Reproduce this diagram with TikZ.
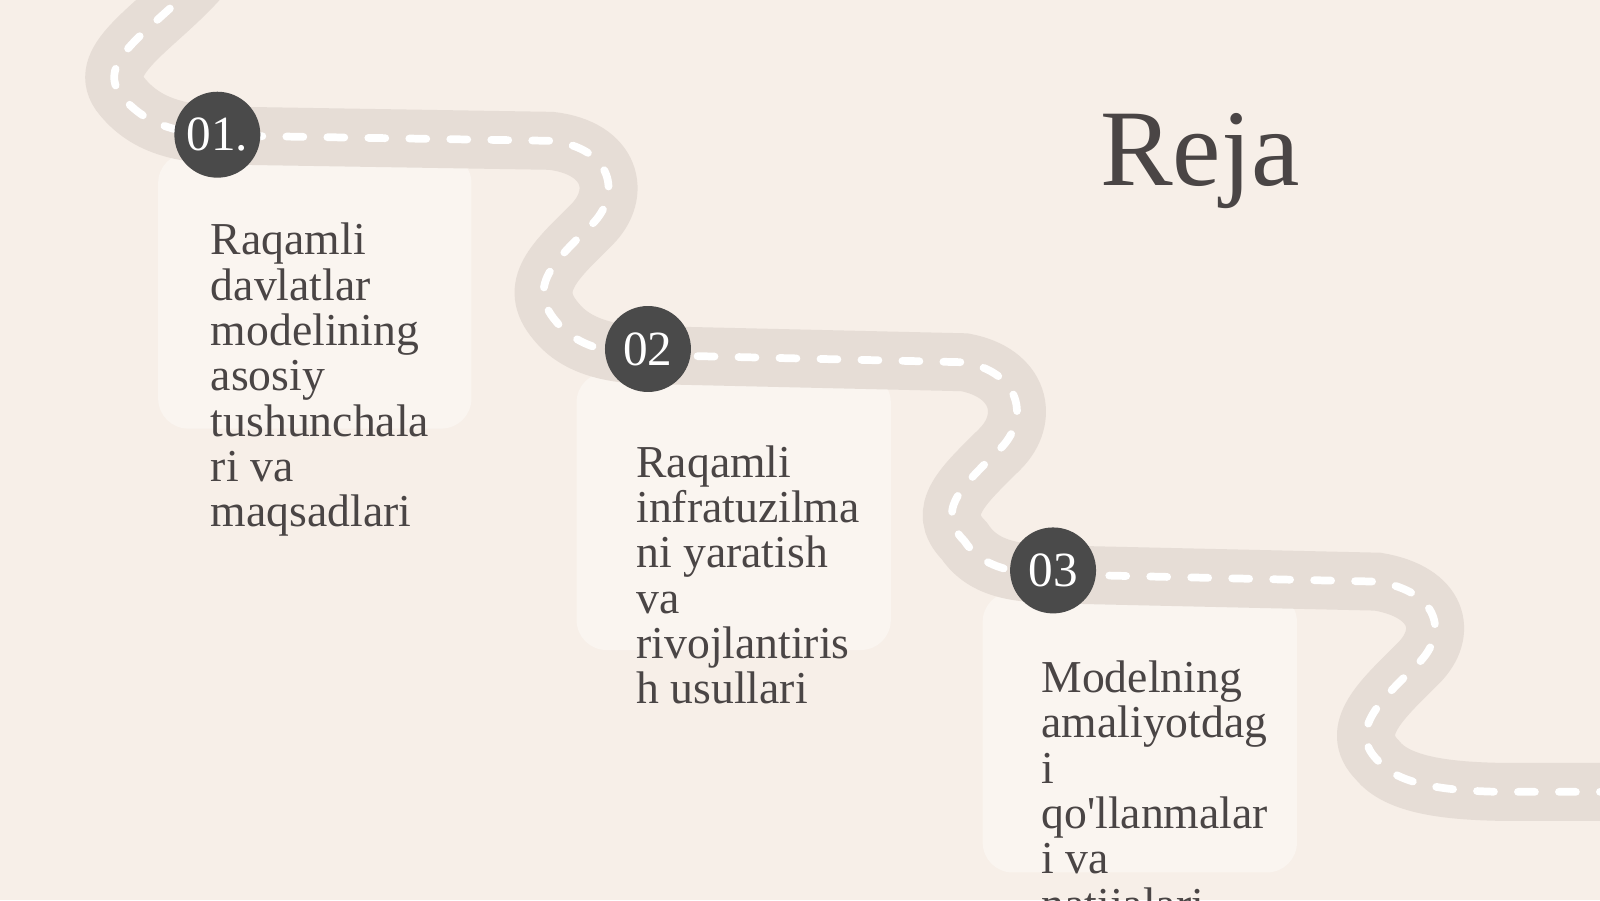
\documentclass[tikz,border=0pt]{standalone}
\usepackage{fontspec}
\setmainfont{Liberation Serif}
\definecolor{bg}{HTML}{F7EFE8}
\definecolor{road}{HTML}{E6DDD6}
\definecolor{card}{HTML}{FAF5F0}
\definecolor{dark}{HTML}{4A4A4A}
\definecolor{txt}{HTML}{4A4545}
\begin{document}
\begin{tikzpicture}[x=0.010204cm,y=-0.010204cm,
  num/.style={circle,fill=dark,minimum size=0.86cm,inner sep=0pt,text=white,font=\fontsize{14}{14}\selectfont},
  item/.style={anchor=north west,align=left,text=txt,font=\fontsize{13}{12.9}\selectfont,inner sep=0pt}]
\fill[bg] (0,0) rectangle (1568,882);
\clip (0,0) rectangle (1568,882);
\useasboundingbox (0,0) rectangle (1568,882);
\fill[card,rounded corners=0.3cm] (155,150) rectangle (462,420);
\fill[card,rounded corners=0.3cm] (565,365) rectangle (873,637);
\fill[card,rounded corners=0.3cm] (963,580) rectangle (1271,855);
\def\roadpath{(195,-20) .. controls (150,30) and (90,60) .. (120,95) .. controls (145,125) and (180,132) .. (230,133) -- (540,138) .. controls (600,145) and (610,190) .. (580,220) .. controls (545,255) and (515,280) .. (545,315) .. controls (565,340) and (600,348) .. (640,348) -- (945,355) .. controls (1000,365) and (1010,410) .. (980,440) .. controls (945,475) and (915,500) .. (945,530) .. controls (965,560) and (1000,562) .. (1040,563) -- (1350,570) .. controls (1410,580) and (1420,620) .. (1390,650) .. controls (1355,685) and (1320,715) .. (1350,745) .. controls (1370,770) and (1420,775) .. (1470,776) -- (1600,776)}
\draw[road,line width=0.58cm] \roadpath;
\draw[white,line width=2.2pt,line cap=round,dash pattern=on 0.17cm off 0.24cm] \roadpath;
\node[num] (n1) at (213,132) {01.};
\node[num] (n2) at (635,342) {02};
\node[num] (n3) at (1032,559) {03};
\node[text=txt,font=\fontsize{31}{31}\selectfont] (title) at (1176,158) {Reja};
\node[item] (t1) at (206,218) {Raqamli\\davlatlar\\modelining\\asosiy\\tushunchala\\ri va\\maqsadlari};
\node[item] (t2) at (623,436) {Raqamli\\infratuzilma\\ni yaratish\\va\\rivojlantiris\\h usullari};
\node[item] (t3) at (1020,647) {Modelning\\amaliyotdag\\i\\qo\textquotesingle llanmalar\\i va\\natijalari};
\end{tikzpicture}
\end{document}
